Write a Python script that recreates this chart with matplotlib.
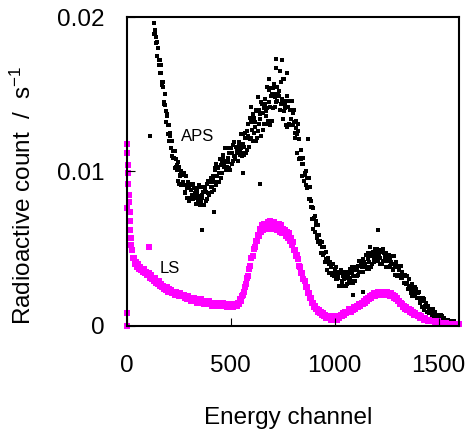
import numpy as np
import matplotlib
matplotlib.use('Agg')
import matplotlib.pyplot as plt

plt.rcParams['font.family'] = ['Liberation Sans', 'DejaVu Sans']
plt.rcParams['mathtext.fontset'] = 'custom'
plt.rcParams['mathtext.rm'] = 'Liberation Sans'
plt.rcParams['mathtext.default'] = 'regular'

# counts, in units of 1e-4 s^-1
# APS, first sample: channel 130, 135, 140, ...
aps_start = 130
aps_step = 5
aps_count = [
    196, 189, 187, 175, 180, 172, 164, 164, 156, 158,
    144, 143, 132, 136, 130, 120, 125, 115, 110, 113,
    113, 103, 104, 94, 103, 97, 91, 98, 92, 99,
    87, 91, 83, 93, 90, 83, 92, 85, 82, 89,
    85, 79, 87, 83, 91, 80, 85, 78, 90, 87,
    81, 92, 86, 85, 93, 96, 90, 95, 88, 101,
    105, 97, 102, 93, 108, 104, 99, 109, 105, 115,
    103, 109, 102, 115, 112, 105, 117, 110, 108, 116,
    112, 107, 117, 113, 124, 112, 118, 111, 125, 122,
    114, 131, 122, 121, 132, 137, 125, 132, 120, 139,
    148, 131, 137, 123, 144, 138, 131, 144, 139, 155,
    131, 145, 130, 154, 150, 141, 157, 148, 145, 155,
    149, 140, 158, 145, 160, 139, 144, 130, 149, 142,
    131, 146, 134, 130, 138, 140, 125, 128, 112, 126,
    121, 109, 108, 97, 105, 98, 91, 96, 90, 96,
    82, 81, 69, 76, 70, 61, 68, 58, 54, 59,
    53, 47, 51, 46, 51, 41, 43, 36, 44, 40,
    34, 40, 34, 32, 37, 38, 30, 33, 26, 34,
    36, 29, 32, 26, 34, 31, 27, 33, 30, 37,
    29, 34, 28, 38, 36, 32, 39, 35, 35, 41,
    38, 35, 41, 39, 46, 38, 43, 37, 47, 45,
    40, 48, 43, 43, 48, 50, 43, 46, 40, 48,
    50, 42, 45, 38, 46, 42, 38, 43, 40, 45,
    37, 40, 33, 41, 39, 33, 39, 33, 31, 35,
    32, 28, 32, 28, 32, 25, 26, 21, 27, 24,
    21, 25, 21, 18, 21, 22, 16, 17, 12, 17,
    17, 13, 14, 9, 13, 10, 8, 10, 7, 11,
    7, 7, 5, 7, 7, 4, 7, 4, 3, 5,
    3, 4, 3, 2, 3, 2, 1, 2, 2, 3,
    2, 1, 2, 1,
]
# APS, second sample: channel 133, 138, 143, ...
aps_start_b = 133
aps_count_b = [
    189, 192, 183, 184, 169, 172, 169, 158, 155, 145,
    150, 139, 137, 124, 130, 123, 115, 120, 109, 109,
    102, 108, 101, 106, 92, 98, 100, 91, 93, 86,
    97, 89, 92, 81, 91, 88, 82, 92, 83, 86,
    87, 89, 81, 84, 78, 90, 83, 87, 78, 89,
    87, 82, 94, 86, 90, 87, 97, 93, 102, 91,
    93, 103, 99, 108, 96, 106, 111, 103, 107, 101,
    115, 106, 112, 101, 115, 112, 107, 119, 110, 113,
    115, 119, 111, 115, 110, 124, 116, 122, 112, 126,
    123, 116, 135, 122, 127, 120, 135, 129, 140, 122,
    126, 140, 134, 145, 127, 141, 147, 136, 141, 133,
    153, 142, 149, 133, 154, 150, 142, 167, 146, 150,
    152, 165, 144, 147, 134, 160, 141, 146, 129, 146,
    140, 130, 146, 130, 132, 122, 133, 124, 131, 108,
    109, 114, 105, 109, 94, 99, 100, 89, 90, 82,
    90, 77, 77, 63, 71, 65, 57, 65, 54, 55,
    54, 54, 46, 47, 41, 48, 41, 42, 34, 41,
    38, 33, 40, 32, 34, 30, 35, 31, 35, 26,
    28, 34, 30, 35, 26, 33, 35, 29, 31, 28,
    38, 32, 36, 29, 38, 36, 33, 42, 35, 39,
    41, 43, 38, 40, 37, 47, 41, 45, 38, 47,
    45, 41, 50, 43, 46, 42, 48, 44, 49, 40,
    42, 47, 43, 47, 38, 44, 46, 39, 41, 36,
    45, 38, 40, 32, 39, 36, 32, 39, 31, 33,
    32, 33, 27, 28, 24, 30, 24, 26, 19, 25,
    23, 19, 24, 18, 18, 15, 18, 16, 18, 10,
    12, 15, 12, 13, 8, 11, 11, 8, 8, 6,
    9, 7, 7, 4, 6, 5, 4, 6, 3, 3,
    2, 3, 4, 2, 3, 2, 2, 1, 2, 2,
    1, 2, 1, 1,
]
aps_extra_ch = [112, 360, 420, 640, 1090, 1210, 718, 745, 770, 682, 600,
                560, 870, 1135, 1168]
aps_extra = [123, 62, 74, 92, 20, 62, 173, 172, 164, 160, 142,
             99, 121, 22, 51]

# LS: channel 25, 30, 35, ...
ls_start = 25
ls_step = 5
ls_count = [
    49, 44, 44, 40, 41, 38, 40, 37, 38, 36,
    37, 35, 37, 34, 35, 33, 34, 31, 33, 30,
    31, 29, 31, 28, 29, 27, 29, 26, 27, 25,
    26, 24, 25, 23, 25, 22, 24, 22, 23, 21,
    22, 20, 22, 20, 21, 19, 21, 19, 20, 19,
    20, 18, 19, 17, 19, 17, 18, 16, 18, 16,
    18, 16, 17, 15, 17, 15, 17, 15, 16, 14,
    16, 14, 16, 14, 16, 14, 15, 13, 15, 14,
    15, 13, 15, 13, 15, 13, 14, 13, 15, 13,
    14, 12, 14, 12, 14, 12, 14, 12, 14, 13,
    14, 13, 15, 14, 17, 16, 19, 20, 22, 25,
    27, 31, 32, 37, 39, 44, 45, 50, 51, 55,
    55, 59, 58, 63, 61, 65, 62, 66, 63, 66,
    64, 67, 63, 68, 64, 66, 63, 67, 64, 65,
    62, 66, 61, 65, 60, 63, 60, 62, 58, 61,
    57, 60, 55, 57, 52, 54, 49, 49, 45, 46,
    43, 39, 38, 34, 34, 30, 29, 25, 25, 21,
    21, 18, 18, 15, 15, 12, 13, 11, 11, 9,
    10, 8, 9, 7, 8, 6, 7, 5, 6, 5,
    6, 4, 6, 4, 6, 4, 6, 4, 6, 5,
    6, 7, 6, 8, 7, 9, 8, 9, 9, 11,
    10, 9, 11, 10, 12, 11, 13, 12, 14, 13,
    14, 15, 14, 16, 15, 17, 16, 18, 17, 19,
    18, 20, 19, 21, 19, 21, 20, 22, 20, 22,
    20, 22, 21, 22, 20, 22, 20, 21, 19, 21,
    19, 20, 18, 19, 17, 18, 16, 16, 14, 15,
    14, 12, 13, 11, 12, 10, 11, 9, 10, 8,
    9, 7, 8, 7, 7, 6, 7, 5, 6, 5,
    5, 4, 5, 4, 4, 3, 4, 3, 3, 3,
    3, 2, 3, 2, 3, 2, 2, 2, 2, 1,
    2, 1, 2, 1, 1, 1, 1, 1, 1, 1,
    1, 1, 1, 1, 1, 1,
]
ls_extra_ch = [0, 0, 1, 2, 3, 4, 6, 8, 10, 12, 14, 16, 18, 20, 22, 109]
ls_extra = [0, 8, 76, 118, 112, 104, 99, 92, 85, 80, 74, 68, 62, 57, 52, 51]

scale = 1e-4

aps_ch = aps_start + aps_step * np.arange(len(aps_count))
aps_ch_b = aps_start_b + aps_step * np.arange(len(aps_count_b))
ls_ch = ls_start + ls_step * np.arange(len(ls_count))

fig = plt.figure(figsize=(4.68, 4.32), dpi=100)
ax = fig.add_axes([0.2707, 0.2461, 0.7111, 0.7139])

ax.scatter(np.concatenate([aps_ch, aps_ch_b, aps_extra_ch]),
           np.concatenate([aps_count, aps_count_b, aps_extra]) * scale,
           s=5, marker='s', color='black', linewidths=0, clip_on=False)
ax.scatter(np.concatenate([ls_ch, ls_extra_ch]),
           np.concatenate([ls_count, ls_extra]) * scale,
           s=13, marker='s', color='#ff00ff', linewidths=0, clip_on=False)

ax.text(340, 0.01228, 'APS', ha='center', va='center', fontsize=12)
ax.text(205, 0.00371, 'LS', ha='center', va='center', fontsize=12)

ax.set_xlim(0, 1600)
ax.set_ylim(0, 0.02)
ax.set_xticks([0, 500, 1000, 1500])
ax.set_xticklabels(['0', '500', '1000', '1500'])
ax.set_yticks([0, 0.01, 0.02])
ax.set_yticklabels(['0', '0.01', '0.02'])
ax.tick_params(direction='in', length=5.5, width=0.8, labelsize=17.5)
ax.tick_params(axis='x', pad=21)
ax.tick_params(axis='y', pad=16)
for sp in ax.spines.values():
    sp.set_linewidth(1.5)

fig.text(288.3 / 468, 1 - 424.3 / 432, 'Energy channel', ha='center',
         va='baseline', fontsize=17.5)
fig.text(23 / 468, 0.5475, 'Radioactive count  /  s$^{-1}$', rotation=90,
         ha='center', va='center', fontsize=17.5)

fig.savefig('out.png', dpi=100)
